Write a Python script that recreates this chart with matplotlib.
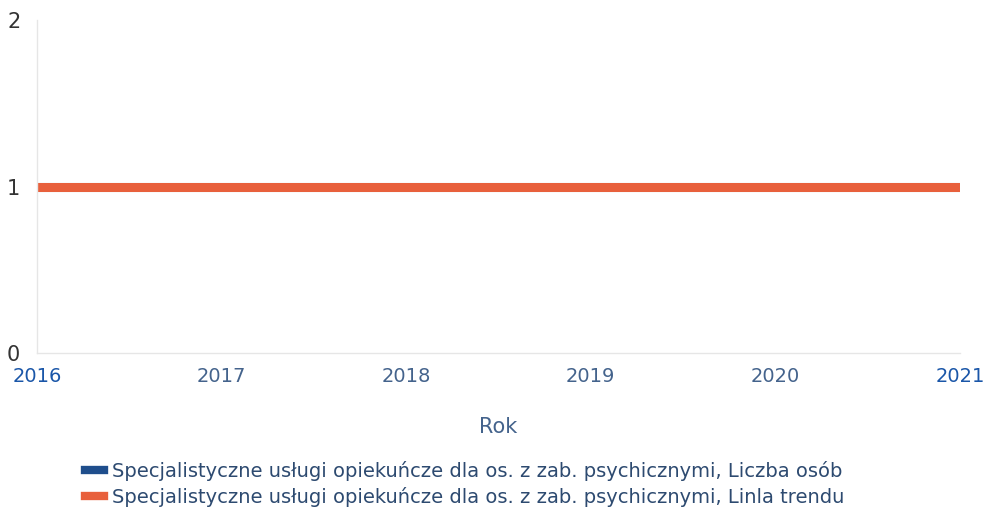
import matplotlib
matplotlib.use("Agg")
import matplotlib.pyplot as plt
from matplotlib.lines import Line2D

years = [2016, 2017, 2018, 2019, 2020, 2021]
liczba_osob = [1, 1, 1, 1, 1, 1]
linia_trendu = [1, 1, 1, 1, 1, 1]
series_names = [
    "Specjalistyczne usługi opiekuńcze dla os. z zab. psychicznymi, Liczba osób",
    "Specjalistyczne usługi opiekuńcze dla os. z zab. psychicznymi, Linla trendu",
]
colors = ["#1f4e8c", "#e8603c"]

plt.rcParams['font.family'] = ['DejaVu Sans']
fig = plt.figure(figsize=(9.85, 5.14), dpi=100)
ax = fig.add_axes([0.0376, 0.313, 0.937, 0.648])

ax.plot(years, liczba_osob, color=colors[0], lw=6.5, solid_capstyle='butt')
ax.plot(years, linia_trendu, color=colors[1], lw=6.5, solid_capstyle='butt')

ax.set_xlim(2016, 2021)
ax.set_ylim(0, 2)
ax.set_yticks([0, 1, 2])
ax.set_xticks(years)
ax.set_xticklabels([str(y) for y in years])
for sp in ['top', 'right']:
    ax.spines[sp].set_visible(False)
for sp in ['left', 'bottom']:
    ax.spines[sp].set_color('#e6e6e6')
    ax.spines[sp].set_linewidth(1)
ax.tick_params(axis='both', length=0)
ax.tick_params(axis='y', labelsize=15, labelcolor='#333333', pad=12)
ax.tick_params(axis='x', labelsize=14, pad=10)
xl = ax.get_xticklabels()
for i, t in enumerate(xl):
    t.set_color('#1a56a8' if i in (0, len(xl) - 1) else '#44638c')
ax.set_xlabel("Rok", fontsize=15, color='#44638c', labelpad=22)

handles = [Line2D([0], [0], color=c, lw=6) for c in colors]
fig.legend(handles, series_names, loc='upper left', bbox_to_anchor=(0.078, 0.118),
           frameon=False, fontsize=14, handlelength=1.0, handletextpad=0.4,
           labelspacing=0.3, labelcolor='#2d4a70', borderaxespad=0)

fig.savefig("out.png", dpi=100)
